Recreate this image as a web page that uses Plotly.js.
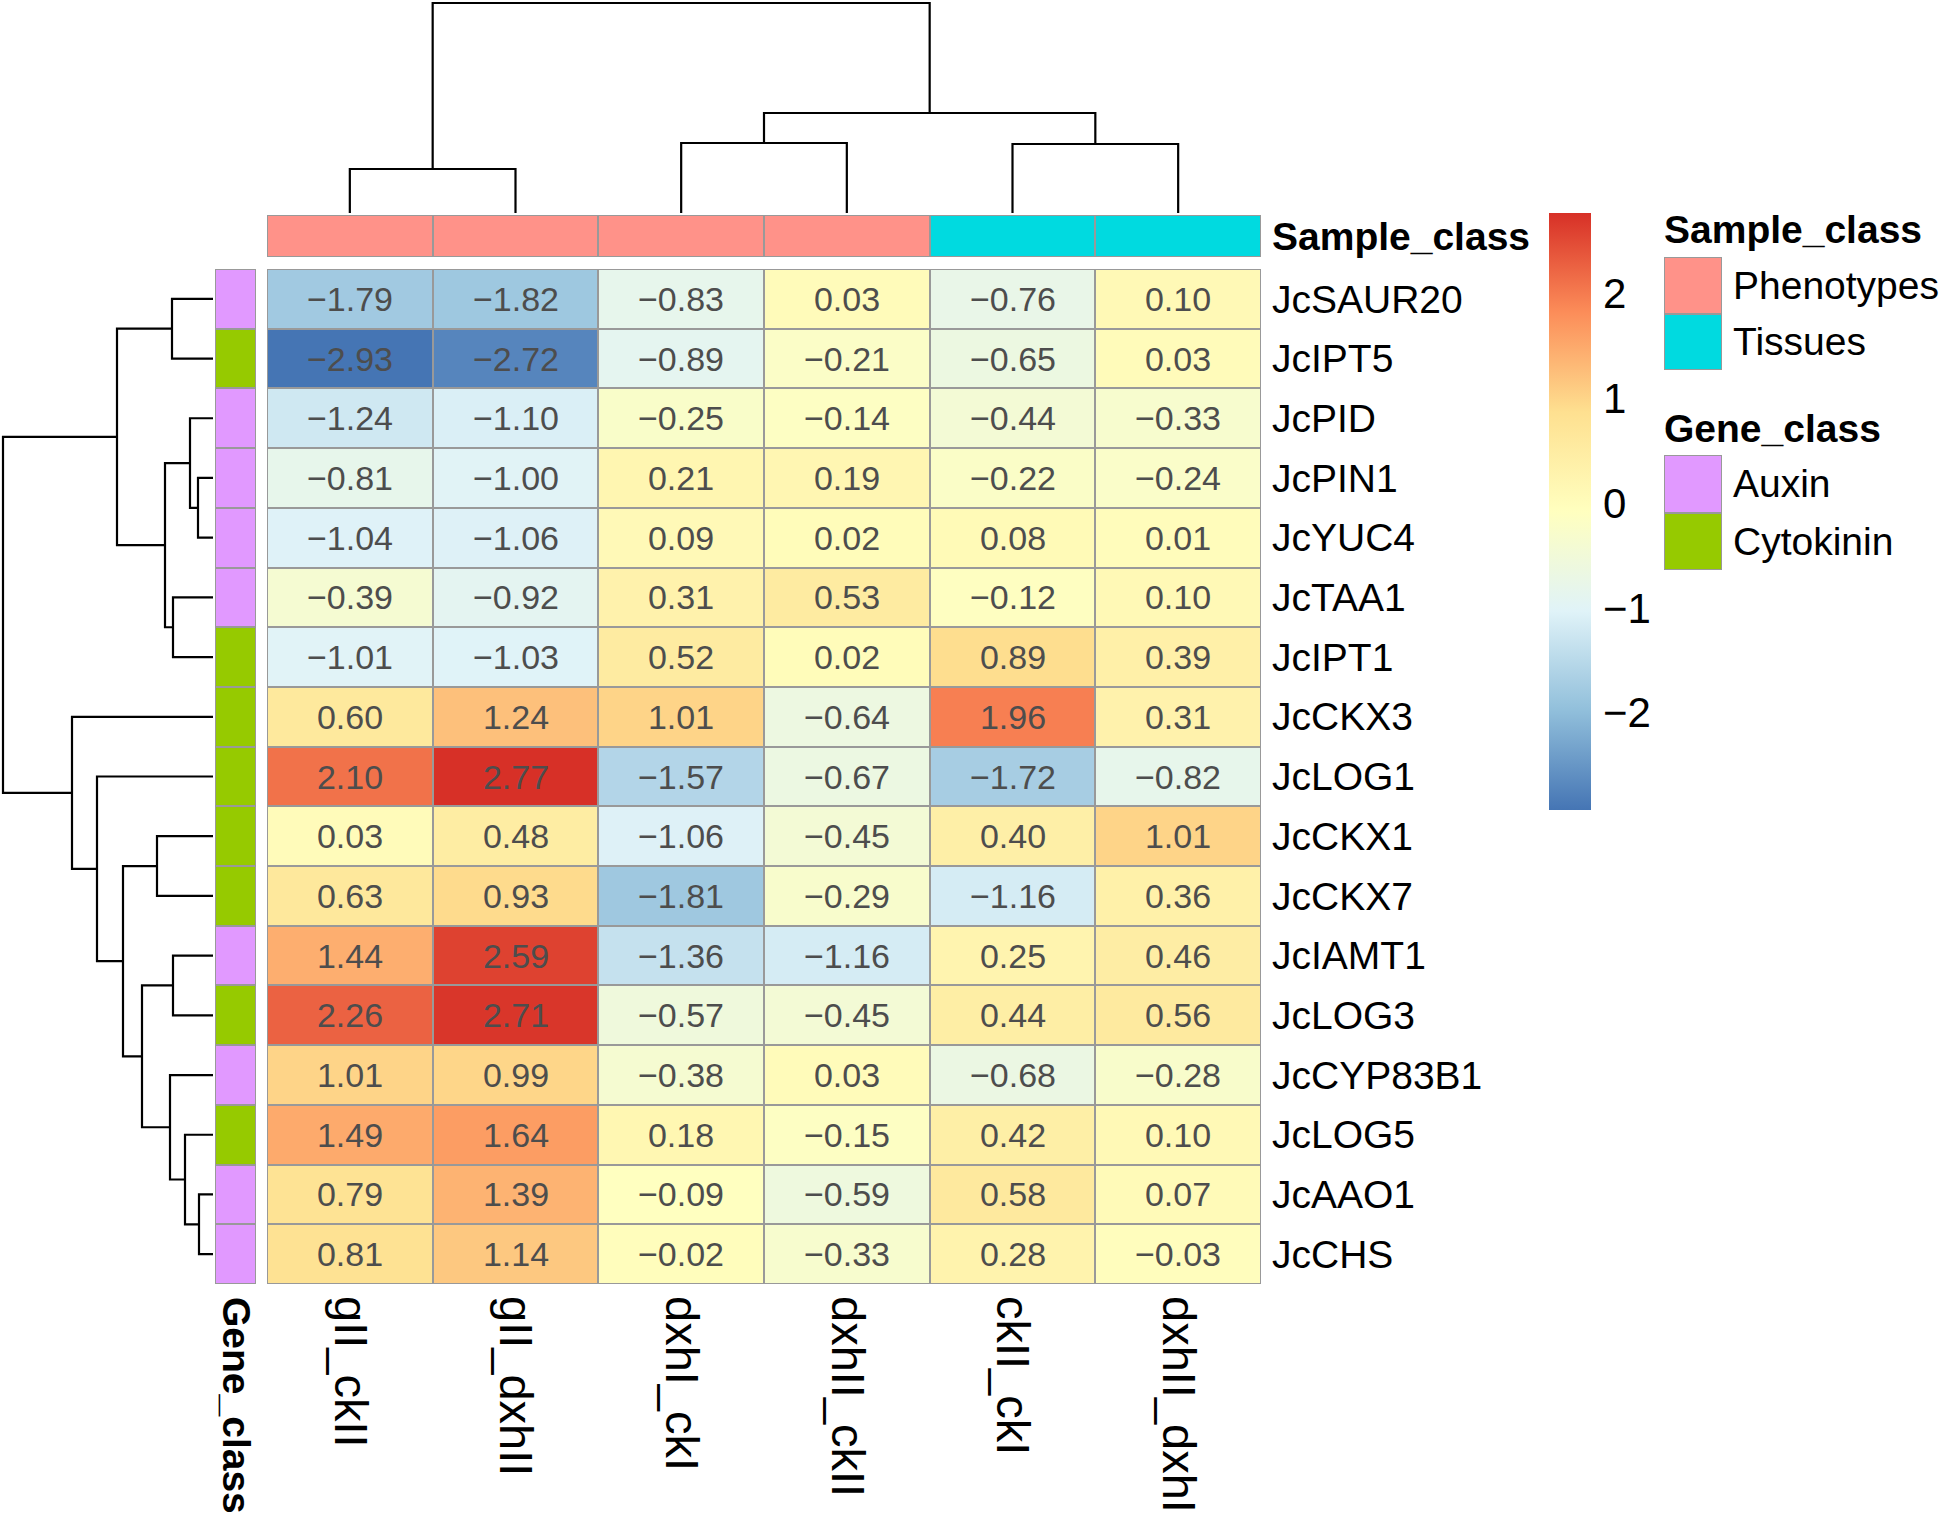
<!DOCTYPE html>
<html><head><meta charset="utf-8">
<script src="https://cdn.plot.ly/plotly-3.0.1.min.js"></script>
<style>html,body{margin:0;padding:0;background:#fff}</style>
</head><body><div id="chart" style="width:1946px;height:1520px"></div>
<script>
// ---------------- data ----------------
const colNames = ['gII_ckII','gII_dxhII','dxhI_ckI','dxhII_ckII','ckII_ckI','dxhII_dxhI'];
const rowNames = ['JcSAUR20','JcIPT5','JcPID','JcPIN1','JcYUC4','JcTAA1','JcIPT1','JcCKX3','JcLOG1',
                  'JcCKX1','JcCKX7','JcIAMT1','JcLOG3','JcCYP83B1','JcLOG5','JcAAO1','JcCHS'];
const expression = [
  [-1.79,-1.82,-0.83, 0.03,-0.76, 0.10],
  [-2.93,-2.72,-0.89,-0.21,-0.65, 0.03],
  [-1.24,-1.10,-0.25,-0.14,-0.44,-0.33],
  [-0.81,-1.00, 0.21, 0.19,-0.22,-0.24],
  [-1.04,-1.06, 0.09, 0.02, 0.08, 0.01],
  [-0.39,-0.92, 0.31, 0.53,-0.12, 0.10],
  [-1.01,-1.03, 0.52, 0.02, 0.89, 0.39],
  [ 0.60, 1.24, 1.01,-0.64, 1.96, 0.31],
  [ 2.10, 2.77,-1.57,-0.67,-1.72,-0.82],
  [ 0.03, 0.48,-1.06,-0.45, 0.40, 1.01],
  [ 0.63, 0.93,-1.81,-0.29,-1.16, 0.36],
  [ 1.44, 2.59,-1.36,-1.16, 0.25, 0.46],
  [ 2.26, 2.71,-0.57,-0.45, 0.44, 0.56],
  [ 1.01, 0.99,-0.38, 0.03,-0.68,-0.28],
  [ 1.49, 1.64, 0.18,-0.15, 0.42, 0.10],
  [ 0.79, 1.39,-0.09,-0.59, 0.58, 0.07],
  [ 0.81, 1.14,-0.02,-0.33, 0.28,-0.03]
];
const sampleClass = ['Phenotypes','Phenotypes','Phenotypes','Phenotypes','Tissues','Tissues'];
const geneClass = ['Auxin','Cytokinin','Auxin','Auxin','Auxin','Auxin','Cytokinin','Cytokinin','Cytokinin',
                   'Cytokinin','Cytokinin','Auxin','Cytokinin','Auxin','Cytokinin','Auxin','Auxin'];
const sampleLevels = ['Phenotypes','Tissues'];
const sampleColors = ['#FF9289','#00DAE0'];
const geneLevels = ['Auxin','Cytokinin'];
const geneColors = ['#E199FF','#96CA00'];
const scaleColors = ['#4575B4','#91BFDB','#E0F3F8','#FFFFBF','#FEE090','#FC8D59','#D73027'];
// hclust-style merges: negative = leaf (1-based), positive = earlier merge; third = height
const colMerge = [[-1,-2,0.44],[-3,-4,0.70],[-5,-6,0.69],[2,3,1.00],[1,4,2.10]];
const rowMerge = [
  [-1,-2,0.41],[-4,-5,0.15],[-3,2,0.23],[-6,-7,0.40],[3,4,0.48],[1,5,0.96],
  [-10,-11,0.56],[-12,-13,0.40],[-16,-17,0.14],[-15,9,0.28],[-14,10,0.43],
  [8,11,0.71],[7,12,0.90],[-9,13,1.16],[-8,14,1.41],[6,15,2.10]
];

// ---------------- helpers ----------------
const W = 1946, H = 1520;
const px = v => v / W, py = v => 1 - v / H;
const FONT = 'Liberation Sans, Arial, sans-serif';
function dendro(merge){
  const pos = [], ht = [], p = [], h = [];
  const P = r => r < 0 ? -r - 1 : pos[r - 1];
  const Hh = r => r < 0 ? 0 : ht[r - 1];
  merge.forEach(([a, b, hh], i) => {
    const pa = P(a), pb = P(b);
    pos[i] = (pa + pb) / 2; ht[i] = hh;
    p.push(pa, pa, pb, pb, null); h.push(Hh(a), hh, hh, Hh(b), null);
  });
  return {p, h, root: merge[merge.length - 1][2]};
}
const fmt = v => v.toFixed(2).replace('-', '\u2212');
const colIdx = colNames.map((_, i) => i);
const rowIdx = rowNames.map((_, i) => i);
const flat = expression.flat();
const zmin = Math.min(...flat), zmax = Math.max(...flat);
const colorscale = scaleColors.map((c, i) => [i / (scaleColors.length - 1), c]);
const disc = cs => [[0, cs[0]], [0.5, cs[0]], [0.5, cs[1]], [1, cs[1]]];
const topD = dendro(colMerge), leftD = dendro(rowMerge);
const GRID = '#999999';

const traces = [
  { type:'heatmap', x: colIdx, y: rowIdx, z: expression,
    text: expression.map(r => r.map(fmt)), texttemplate: '%{text}',
    textfont: {family: FONT, size: 34, color: '#4D4D4D'},
    colorscale, zmin, zmax, xgap: 2, ygap: 2, hoverinfo: 'skip',
    colorbar: { x: px(1549), xanchor: 'left', xpad: 0, y: py(213), yanchor: 'top', ypad: 0,
      thickness: 42, thicknessmode: 'pixels', len: 597, lenmode: 'pixels',
      outlinewidth: 0, ticks: 'outside', ticklen: 4, tickcolor: 'rgba(0,0,0,0)',
      dtick: 1, tick0: 0, tickfont: {family: FONT, size: 42, color: '#000'} },
    xaxis: 'x', yaxis: 'y' },
  { type:'heatmap', x: colIdx, y: [0], z: [sampleClass.map(c => sampleLevels.indexOf(c))],
    colorscale: disc(sampleColors), zmin: 0, zmax: 1, showscale: false, xgap: 2, ygap: 2,
    hoverinfo: 'skip', xaxis: 'x', yaxis: 'y2' },
  { type:'heatmap', x: [0], y: rowIdx, z: geneClass.map(c => [geneLevels.indexOf(c)]),
    colorscale: disc(geneColors), zmin: 0, zmax: 1, showscale: false, xgap: 2, ygap: 2,
    hoverinfo: 'skip', xaxis: 'x2', yaxis: 'y' },
  { type:'scatter', mode:'lines', x: topD.p, y: topD.h, line: {color:'#000', width: 2.2},
    hoverinfo:'skip', showlegend:false, xaxis:'x', yaxis:'y3' },
  { type:'scatter', mode:'lines', x: leftD.h, y: leftD.p, line: {color:'#000', width: 2.2},
    hoverinfo:'skip', showlegend:false, xaxis:'x4', yaxis:'y' },
  { type:'heatmap', x: [0], y: [0, 1], z: [[0], [1]], colorscale: disc(sampleColors), zmin: 0, zmax: 1,
    showscale: false, xgap: 2, ygap: 2, hoverinfo:'skip', xaxis:'x5', yaxis:'y5' },
  { type:'heatmap', x: [0], y: [0, 1], z: [[0], [1]], colorscale: disc(geneColors), zmin: 0, zmax: 1,
    showscale: false, xgap: 2, ygap: 2, hoverinfo:'skip', xaxis:'x6', yaxis:'y6' }
];

const base = {showgrid:false, zeroline:false, showline:false, ticks:'', fixedrange:true};
const lblFont = {family: FONT, size: 39, color: '#000'};
const colFont = {family: FONT, size: 47, color: '#000'};
const nC = colNames.length, nR = rowNames.length;
const layout = {
  width: W, height: H, margin: {l:0, r:0, t:0, b:0},
  paper_bgcolor: '#fff', plot_bgcolor: 'rgba(0,0,0,0)', showlegend: false,
  font: {family: FONT, color: '#000'},
  xaxis: Object.assign({}, base, { domain: [px(267), px(1261)], range: [-0.5, nC - 0.5], anchor: 'y',
    tickmode: 'array', tickvals: colIdx, ticktext: colNames, tickangle: 90, tickfont: colFont,
    ticklabelstandoff: 11 }),
  yaxis: Object.assign({}, base, { domain: [py(1284), py(269)], range: [nR - 0.5, -0.5], anchor: 'x',
    side: 'right', tickmode: 'array', tickvals: rowIdx, ticktext: rowNames, tickfont: lblFont,
    ticklabelstandoff: 10 }),
  yaxis2: Object.assign({}, base, { domain: [py(257), py(215)], range: [-0.5, 0.5], anchor: 'x',
    side: 'right', tickmode: 'array', tickvals: [0], ticktext: ['<b>Sample_class</b>'], tickfont: lblFont,
    ticklabelstandoff: 10 }),
  xaxis2: Object.assign({}, base, { domain: [px(215), px(256)], range: [-0.5, 0.5], anchor: 'y',
    tickmode: 'array', tickvals: [0], ticktext: ['<b>Gene_class</b>'], tickangle: 90, tickfont: lblFont,
    ticklabelstandoff: 12 }),
  yaxis3: Object.assign({}, base, { domain: [py(213), py(1)], range: [0, topD.root * 212 / 210],
    anchor: 'x', visible: false }),
  xaxis4: Object.assign({}, base, { domain: [px(1), px(213)], range: [leftD.root * 212 / 210, 0],
    anchor: 'y', visible: false }),
  xaxis5: Object.assign({}, base, { domain: [px(1664), px(1722)], range: [-0.5, 0.5], anchor: 'y5',
    showticklabels: false }),
  yaxis5: Object.assign({}, base, { domain: [py(370), py(257)], range: [1.5, -0.5], anchor: 'x5',
    side: 'right', tickmode: 'array', tickvals: [0, 1], ticktext: sampleLevels, tickfont: lblFont,
    ticklabelstandoff: 10 }),
  xaxis6: Object.assign({}, base, { domain: [px(1664), px(1722)], range: [-0.5, 0.5], anchor: 'y6',
    showticklabels: false }),
  yaxis6: Object.assign({}, base, { domain: [py(570), py(455)], range: [1.5, -0.5], anchor: 'x6',
    side: 'right', tickmode: 'array', tickvals: [0, 1], ticktext: geneLevels, tickfont: lblFont,
    ticklabelstandoff: 10 }),
  shapes: [
    {type:'rect', layer:'below', xref:'x', yref:'y', x0:-0.5, x1:nC-0.5, y0:-0.5, y1:nR-0.5,
     fillcolor: GRID, line:{color: GRID, width: 1}},
    {type:'rect', layer:'below', xref:'x', yref:'y2', x0:-0.5, x1:nC-0.5, y0:-0.5, y1:0.5,
     fillcolor: GRID, line:{color: GRID, width: 1}},
    {type:'rect', layer:'below', xref:'x2', yref:'y', x0:-0.5, x1:0.5, y0:-0.5, y1:nR-0.5,
     fillcolor: GRID, line:{color: GRID, width: 1}},
    {type:'rect', layer:'below', xref:'x5', yref:'y5', x0:-0.5, x1:0.5, y0:-0.5, y1:1.5,
     fillcolor: GRID, line:{color: GRID, width: 1}},
    {type:'rect', layer:'below', xref:'x6', yref:'y6', x0:-0.5, x1:0.5, y0:-0.5, y1:1.5,
     fillcolor: GRID, line:{color: GRID, width: 1}}
  ],
  annotations: [
    {xref:'paper', yref:'paper', x: px(1662), y: py(230), xanchor:'left', yanchor:'middle', showarrow:false,
     text:'<b>Sample_class</b>', font: lblFont},
    {xref:'paper', yref:'paper', x: px(1662), y: py(428), xanchor:'left', yanchor:'middle', showarrow:false,
     text:'<b>Gene_class</b>', font: lblFont}
  ]
};
Plotly.newPlot('chart', traces, layout, {staticPlot: true, displayModeBar: false});
</script></body></html>
